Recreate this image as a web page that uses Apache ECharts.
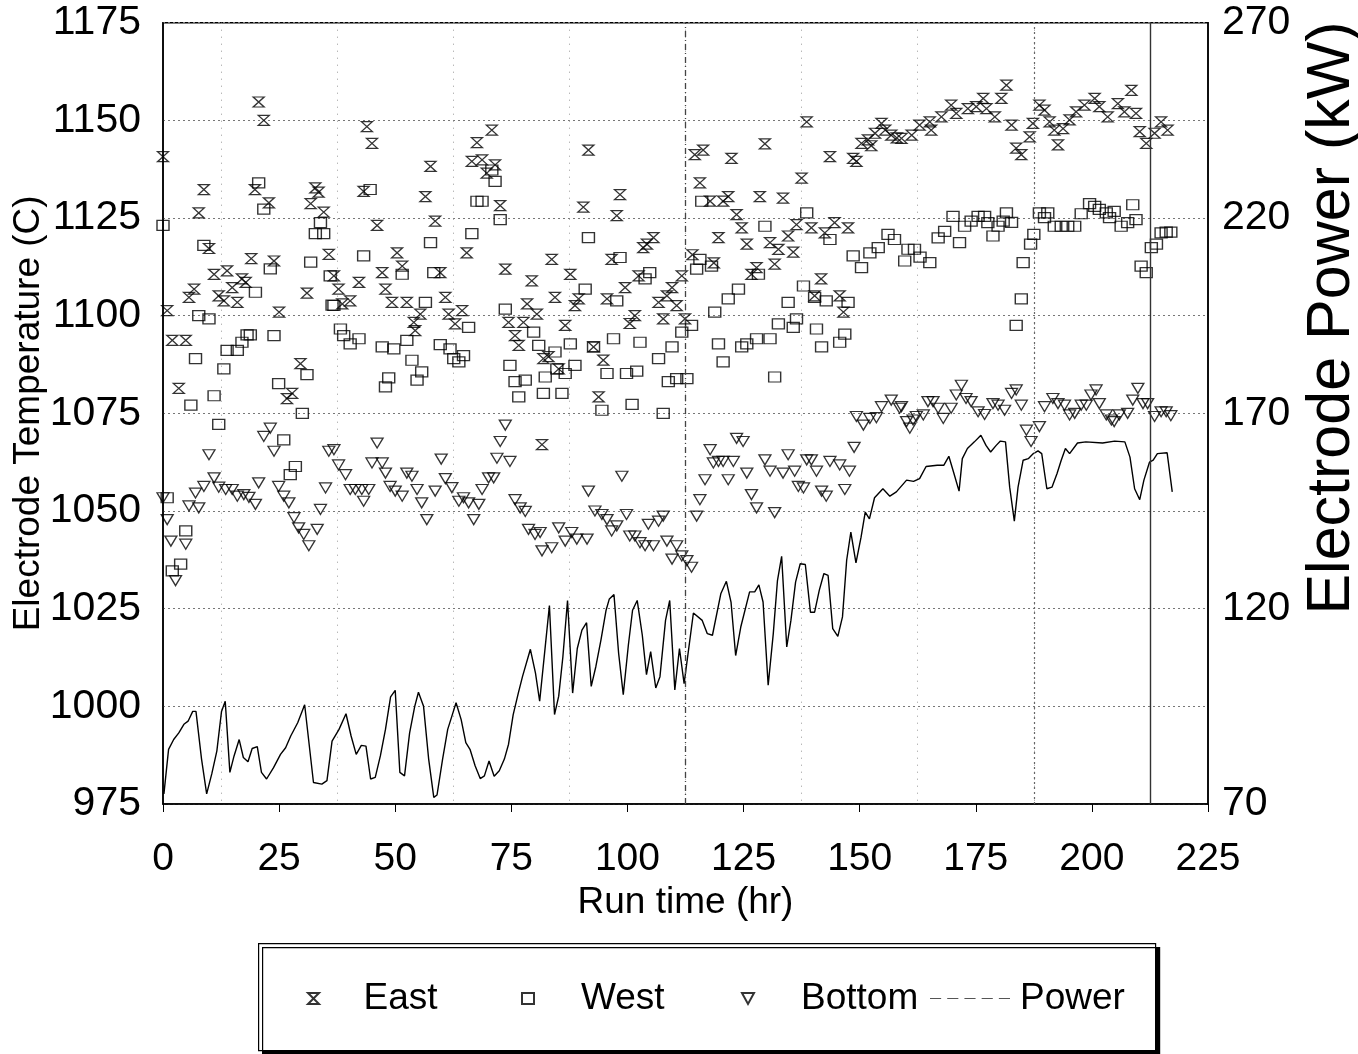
<!DOCTYPE html>
<html>
<head>
<meta charset="utf-8">
<script src="https://cdn.jsdelivr.net/npm/echarts@6/dist/echarts.min.js"></script>
<style>
html,body{margin:0;padding:0;background:#fff;}
#chart{width:1358px;height:1054px;}
</style>
</head>
<body>
<div id="chart"></div>
<script>
// ---- Data ----
const xTicks = [0, 25, 50, 75, 100, 125, 150, 175, 200, 225];
const tempTicks = [975, 1000, 1025, 1050, 1075, 1100, 1125, 1150, 1175];
const powerTicks = [70, 120, 170, 220, 270];
const seriesNames = ['East', 'West', 'Bottom', 'Power'];
const eventLines = [112.5, 187.5, 212.5];

// East electrode temperature [run time hr, temperature C]
const eastPoints = [
[0,1140.7],[0.9,1101.3],[2,1093.7],[3.4,1081.4],[4.9,1093.7],[5.6,1104.7],[6.7,1106.8],[7.7,1126.3],[8.8,1132.3],[9.9,1117.2],
[11,1110.6],[12,1105.1],[13.1,1103.8],[13.8,1111.5],[14.9,1107.2],[16,1103.4],[17,1109.4],[17.8,1108.5],[19,1114.6],[19.8,1132.3],
[20.6,1154.7],[21.7,1150],[22.8,1128.9],[23.9,1114],[25,1100.9],[26.7,1078.8],[27.8,1080.1],[29.6,1087.7],[31,1105.8],[31.8,1128.7],
[32.8,1132.7],[33.5,1131.6],[34.6,1126.5],[35.7,1115.7],[36.8,1110.2],[37.8,1106.8],[38.6,1103],[40.3,1103.8],[42.2,1108.5],[43.2,1131.8],
[43.9,1148.4],[45,1144.1],[46.1,1123.1],[47.2,1111],[47.9,1106.8],[49.3,1103.4],[50.4,1116.1],[51.5,1112.7],[52.5,1103.4],[54,1098.3],
[54.3,1096.2],[55.4,1100.4],[56.5,1130.5],[57.6,1138.2],[58.6,1124.2],[59.7,1111],[60.8,1104.7],[61.5,1100.4],[62.9,1097.9],[64.4,1101.3],
[65.4,1116.1],[66.5,1139.5],[67.6,1144.3],[68.7,1139.9],[69.7,1136.5],[70.8,1147.5],[71.5,1138.6],[72.6,1128.2],[73.7,1111.9],[74.4,1098.3],
[75.8,1094.9],[76.6,1092.4],[77.6,1098.3],[78.4,1103],[79.4,1108.9],[80.5,1100.4],[81.6,1067],[81.9,1089],[83,1089.5],[83.7,1114.4],
[84.4,1104.7],[85.2,1086.4],[86.6,1097.5],[87.7,1110.6],[88.7,1102.6],[89.5,1104.3],[90.5,1127.8],[91.6,1142.4],[92.7,1092],[93.8,1079.2],
[94.8,1088.6],[95.6,1104.3],[96.6,1114.4],[97.7,1125.6],[98.4,1131],[99.5,1107.2],[100.5,1098],[101.6,1100],[102.4,1110.2],[103.4,1117.4],
[104.2,1118.3],[105.6,1120],[106.7,1103.4],[107.7,1099.2],[108.5,1105.1],[109.6,1107.2],[110.6,1102.6],[111.7,1110.2],[112.4,1099.2],[114,1115.6],
[114.5,1141.2],[115.6,1134],[116.3,1142.4],[117.8,1129.3],[118.6,1113.5],[119.6,1120],[120.6,1129.3],[121.7,1130.5],[122.4,1140.3],[123.5,1125.9],
[124.6,1122.5],[125.7,1118.3],[126.7,1110.6],[127.8,1112.3],[128.5,1130.5],[129.6,1144],[130.7,1118.7],[131.7,1113.2],[132.5,1117],[133.5,1130.1],
[134.6,1120.4],[135.7,1116.3],[136.4,1123.3],[137.5,1135.2],[138.6,1149.6],[139.6,1122.5],[140.3,1105.1],[141.7,1109.4],[142.5,1121.2],[143.6,1140.7],
[144.6,1123.8],[145.7,1105.1],[146.5,1100.9],[147.5,1122.5],[148.6,1140.3],[149.3,1139.5],[150.4,1144.1],[151.8,1145],[152.5,1143.5],[153.3,1146.7],
[154.7,1149.2],[155.5,1147.5],[156.8,1146.2],[158,1145.5],[159,1145.4],[161.2,1146.2],[162.9,1148.8],[165.1,1149.6],[165.4,1147.5],[167.6,1150.9],
[169.7,1153.9],[170.8,1151.8],[173.3,1153],[175.1,1153.5],[176.6,1155.6],[177.3,1153],[179.1,1150.9],[180.5,1155.6],[181.6,1159],[182.7,1148.8],
[183.7,1142.9],[184.8,1141.2],[186.6,1145.8],[187.3,1149.2],[188.7,1153.9],[189.8,1152.6],[190.9,1149.6],[191.9,1147.5],[192.7,1143.7],[193.8,1147.9],
[195.2,1150.1],[196.6,1152.2],[198.4,1153.9],[200.6,1155.6],[201.6,1153.5],[203.4,1150.9],[205.6,1154.3],[207,1152.2],[208.5,1157.7],[209.5,1151.8],
[210.3,1147.1],[211.7,1144.1],[213.5,1146.7],[214.9,1149.6],[216.3,1147.5]
];

// West electrode temperature [run time hr, temperature C]
const westPoints = [
[0,1123.1],[0.9,1053.4],[2,1034.7],[3.8,1036.4],[4.9,1044.9],[6,1077.1],[7,1089],[7.7,1100],[8.8,1118],[9.9,1099.2],
[11,1079.5],[12,1072.2],[13.1,1086.4],[13.8,1091.1],[16,1091.1],[17,1093.2],[18.1,1095.1],[18.8,1095.1],[19.9,1106],[20.6,1134],
[21.7,1127.3],[23.1,1112],[23.9,1094.9],[24.9,1082.6],[26,1068.2],[27.4,1059.3],[28.5,1061.4],[30,1075],[31,1084.9],[31.8,1113.7],
[32.8,1121],[33.9,1123.8],[34.6,1121],[36,1110.2],[36.4,1102.7],[36.8,1102.6],[38.2,1096.6],[38.9,1094.9],[40.3,1092.8],[42.2,1094.1],
[43.2,1115.3],[44.6,1132.3],[47.2,1092],[47.9,1081.8],[48.6,1084.1],[49.7,1091.5],[51.5,1110.6],[52.5,1093.7],[53.6,1088.6],[54.7,1083.5],
[55.7,1085.6],[56.5,1103.4],[57.6,1118.7],[58.3,1111],[59.7,1092.6],[61.8,1091.5],[62.6,1089],[63.7,1088.2],[64.7,1089.8],[65.8,1097],
[66.5,1121],[67.6,1129.3],[68.7,1129.3],[70.8,1137.3],[71.5,1134.4],[72.6,1124.6],[73.7,1101.7],[74.7,1087.3],[75.8,1083.1],[76.6,1079.2],
[78,1083.5],[79.8,1095.8],[80.9,1092.4],[81.9,1080.1],[82.3,1084.3],[84.4,1090.7],[84.8,1086.4],[85.9,1080.1],[86.6,1085.2],[87.7,1092.8],
[88.7,1087.3],[90.9,1106.8],[91.6,1120],[92.7,1092],[94.5,1075.8],[95.6,1085.2],[97,1094.1],[97.7,1103.8],[98.4,1114.9],[99.8,1085.2],
[101,1077.3],[102,1085.8],[102.7,1093.2],[103.8,1109.4],[104.8,1111],[106.7,1089],[107.7,1075],[108.8,1083.1],[109.6,1092],[110.6,1083.9],
[111.7,1095.8],[112.8,1083.9],[113.8,1097.5],[114.9,1111.9],[115.6,1114.4],[116,1129.3],[118.1,1112.7],[118.8,1100.9],[119.6,1092.8],[120.6,1088.2],
[121.7,1104.3],[123.9,1106.8],[124.6,1092],[125.7,1092.8],[127.8,1094.1],[128.2,1110.6],[129.6,1122.9],[130.7,1094.1],[131.7,1084.3],[132.5,1097.9],
[134.6,1103.4],[135.7,1097],[136.4,1099.2],[137.9,1107.6],[138.6,1126.3],[140.3,1104.7],[140.7,1096.6],[141.8,1092],[142.8,1103.8],[143.6,1119.5],
[145.7,1093.2],[146.8,1095.3],[147.5,1103.4],[148.6,1115.3],[150.4,1112.3],[152.2,1116.1],[154,1117.4],[156.1,1120.8],[157.5,1119.5],[159.7,1114],
[160.4,1117],[161.8,1117],[163,1115],[165.1,1113.6],[166.9,1119.9],[168.3,1121.6],[170.1,1125.4],[171.5,1118.7],[172.6,1122.9],[174,1124.2],
[175.5,1125.4],[176.9,1125.4],[177.6,1123.8],[178.7,1120.4],[179.8,1122.9],[180.9,1124.2],[181.6,1126.3],[182.7,1123.9],[183.7,1097.5],[184.8,1104.3],
[185.2,1113.6],[186.8,1118.3],[187.5,1120.8],[188.7,1126.3],[189.8,1125.1],[190.5,1126.3],[191.9,1122.9],[193.4,1122.9],[194.8,1122.9],[196.3,1122.9],
[197.7,1126.1],[199.5,1128.7],[200.6,1128],[201.6,1127.2],[203.1,1126.3],[203.8,1125.1],[204.8,1126.7],[206.3,1122.9],[207.7,1123.8],[208.8,1128.4],
[209.5,1124.6],[210.6,1112.7],[211.7,1111],[212.8,1117.4],[213.9,1118.3],[214.9,1121.2],[216,1121.4],[217,1121.4]
];

// Bottom electrode temperature [run time hr, temperature C]
const bottomPoints = [
[0,1053.4],[0.9,1047.8],[1.7,1042.3],[2.7,1032.2],[4.9,1041.5],[5.6,1051.3],[7,1054.6],[7.7,1050.8],[8.8,1056.3],[9.9,1064.4],
[11,1058.5],[12,1056.1],[13.5,1055.5],[14.9,1055.5],[16,1053.8],[17.4,1054.2],[18.5,1053.5],[19.9,1051.7],[20.6,1057.2],[21.7,1069.1],
[23.1,1071.2],[23.9,1065.3],[24.9,1056.3],[26,1053.8],[27.1,1052.1],[28.2,1048.3],[29.2,1045.7],[30.3,1044],[31.4,1041.1],[33.2,1045.3],
[33.9,1050.4],[35,1055.9],[35.7,1065.3],[36.8,1065.7],[37.8,1061.8],[39.3,1059.3],[40.3,1055.5],[41.4,1055.5],[42.8,1055.5],[43.2,1052.5],
[44.3,1055.5],[45,1062.3],[46.1,1067.4],[47.2,1062.3],[47.9,1059.7],[48.9,1056.3],[50,1055.1],[51.5,1053.8],[52.5,1059.7],[53.6,1058.9],
[54.7,1055.5],[55.7,1052.1],[56.8,1047.8],[58.6,1055.1],[59.9,1063.3],[60.8,1058.3],[62.2,1056],[63.7,1052.5],[64.7,1053.4],[65.8,1052.1],
[66.9,1047.8],[68,1051.7],[68.7,1055.5],[70.1,1058.5],[71.2,1058.5],[71.9,1063.5],[72.6,1067.8],[73.7,1072],[74.7,1062.7],[75.8,1052.9],
[76.9,1050.8],[78,1049.9],[78.7,1045.3],[80.1,1044],[81.2,1044.5],[81.6,1039.8],[83.7,1040.6],[85.2,1045.7],[86.6,1042.3],[88,1044.5],
[89.1,1042.8],[91.3,1042.8],[91.6,1055.1],[93,1050],[94.5,1049.1],[95.6,1047.8],[96.6,1044.9],[97.7,1046.2],[98.8,1058.9],[99.8,1049.1],
[100.5,1043.6],[101.6,1043.6],[102.7,1041.9],[103.8,1041.1],[104.5,1046.6],[105.6,1041.1],[106.7,1047.4],[107.7,1048.7],[108.5,1042.3],[109.6,1037.7],
[110.6,1041.1],[111.7,1038.5],[112.8,1037.3],[113.8,1035.6],[114.9,1048.7],[115.6,1052.9],[116.7,1058],[117.8,1065.7],[118.5,1062.3],[119.6,1062.7],
[120.6,1062.7],[121.7,1058],[122.8,1062.7],[123.5,1068.6],[124.9,1067.8],[125.7,1059.7],[126.7,1054.2],[127.8,1050.8],[129.6,1063.1],[130.7,1060.2],
[131.7,1049.6],[133.5,1059.7],[134.6,1064.4],[136,1060.2],[136.8,1056.3],[137.9,1055.9],[138.6,1063.1],[139.6,1063.1],[140.7,1060.2],[141.8,1055.1],
[142.8,1053.8],[143.6,1062.7],[145.7,1061.8],[146.8,1055.5],[147.8,1060.2],[148.8,1066.3],[149.3,1074.2],[150.8,1072],[152.2,1073.7],[153.6,1073.9],
[154.7,1076.7],[156.8,1078.4],[158.6,1076.3],[159,1076.7],[160.1,1072.9],[160.8,1071.2],[161.5,1073.3],[162.2,1074.2],[163.7,1074.6],[164.7,1078],
[165.8,1078],[166.9,1076.3],[168,1073.7],[169.7,1076.3],[170.8,1079.7],[171.9,1082.2],[172.9,1078.8],[174,1078],[175.5,1075.4],[176.9,1074.7],
[178.7,1077.5],[179.8,1077.1],[181.2,1075.8],[182.7,1080.1],[183.7,1081],[184.8,1077.1],[185.9,1070.7],[186.9,1067.8],[188.7,1071.6],[189.8,1076.7],
[191.6,1078.8],[192.7,1077.5],[194.1,1077.1],[195.2,1074.6],[196.3,1075],[197.7,1077.1],[198.8,1077.1],[199.8,1079.7],[200.9,1081],[201.6,1077.5],
[203.1,1074.6],[204.2,1073.3],[204.8,1072.9],[205.9,1074.6],[207.7,1075],[208.8,1078.4],[209.9,1081.4],[211,1077.5],[212,1077.5],[213.5,1074.2],
[214.9,1075.4],[216,1075.4],[217,1074.4]
];

// Electrode power [run time hr, kW]
const powerPoints = [
[0.2,72.6],[1.2,84.0],[2.3,86.5],[3.4,88.2],[4.5,90.4],[5.4,91.2],[6.4,93.7],[7.1,93.7],[8.3,81.5],[9.4,72.6],
[10.5,77.7],[11.6,83.6],[12.6,93.7],[13.4,96.3],[14.4,78.1],[15.3,82.3],[16.4,86.5],[17.3,81.9],[18.3,80.8],[19.2,84.2],
[20.3,84.7],[21.2,78.1],[22.3,76.4],[23.8,79.3],[25.3,82.7],[26.4,84.4],[27.5,87.4],[29.0,90.8],[30.5,95.4],[32.4,75.5],
[34.2,75.1],[35.3,76.0],[36.4,86.1],[37.9,89.1],[39.4,93.1],[40.5,87.4],[41.6,82.7],[42.7,85.0],[43.7,84.8],[44.7,76.4],
[45.7,76.8],[46.8,82.3],[47.9,89.1],[49.0,97.4],[50.0,99.1],[51.0,78.1],[52.0,77.2],[53.1,88.2],[54.2,95.0],[55.0,98.6],
[56.1,95.0],[57.2,81.5],[58.3,71.7],[59.0,72.3],[60.2,81.5],[61.3,89.1],[62.2,92.5],[63.1,95.9],[64.2,91.6],[65.2,85.7],
[66.1,84.0],[67.2,79.8],[68.3,76.5],[69.2,77.2],[70.2,81.0],[71.3,77.1],[72.4,78.5],[73.5,81.5],[74.4,85.3],[75.4,92.9],
[76.5,98.4],[77.4,102.6],[79.1,109.6],[80.2,103.5],[81.1,96.3],[82.3,110.3],[83.2,120.8],[84.3,92.9],[85.2,97.6],[86.1,107.7],
[87.1,122.1],[88.2,98.4],[89.2,109.8],[90.2,114.5],[91.2,116.4],[92.2,100.1],[93.2,105.2],[94.3,112.0],[95.4,119.6],[96.1,122.5],
[97.1,123.6],[98.1,108.6],[99.1,98.0],[100.2,110.7],[101.1,119.6],[102.1,122.1],[103.2,113.2],[104.1,103.1],[105.0,109.0],[106.1,99.7],
[107.0,102.6],[108.2,117.0],[109.1,122.1],[110.2,99.2],[111.2,109.8],[112.2,100.8],[114.2,118.9],[116.1,117.0],[117.2,113.6],[118.3,113.2],
[120.1,123.8],[121.3,127.0],[122.3,121.7],[123.3,108.0],[124.4,115.3],[126.3,124.3],[127.4,124.3],[128.3,126.1],[129.2,121.7],[130.3,100.4],
[131.4,113.6],[132.3,127.2],[133.2,133.4],[134.3,110.2],[135.2,117.0],[136.2,126.8],[137.2,131.5],[138.3,131.3],[139.4,119.1],[140.3,119.1],
[141.3,124.7],[142.3,129.0],[143.2,128.5],[144.2,114.9],[145.3,112.9],[146.3,117.9],[147.2,132.4],[148.1,139.6],[149.2,131.7],[150.3,138.3],
[151.2,144.7],[152.1,143.0],[153.2,148.4],[155.0,150.7],[156.5,148.8],[157.9,149.9],[160.1,152.9],[161.6,152.6],[162.9,153.3],[164.3,156.4],
[166.7,156.7],[168.1,156.7],[169.2,159.0],[170.3,154.6],[171.4,150.1],[172.1,158.4],[173.2,161.0],[174.7,162.7],[176.1,164.4],[177.2,161.8],
[178.2,160.1],[179.4,161.8],[180.3,162.9],[181.4,162.7],[182.3,151.1],[183.3,142.4],[184.1,151.1],[185.2,158.0],[186.3,158.4],[187.4,159.7],
[188.4,160.4],[189.2,159.7],[190.3,150.7],[191.4,151.1],[192.5,154.6],[193.4,158.0],[194.3,161.0],[195.2,159.7],[196.9,162.4],[198.7,162.7],
[202.3,162.4],[204.9,162.9],[207.1,162.7],[208.2,158.8],[209.2,150.7],[210.3,147.9],[211.2,152.9],[212.4,157.5],[213.2,158.0],[214.1,159.7],
[216.2,159.9],[217.3,149.9]
];

// ---- Chart ----
const FONT = '"Liberation Sans", Arial, Helvetica, sans-serif';
const markerStyle = {color: 'rgba(0,0,0,0)', borderColor: '#000', borderWidth: 1.3};
const hourglass = 'path://M0,0L10,0L0,10L10,10Z';
const triDown = 'path://M0,0L10,0L5,9Z';
const dashIcon = 'path://M0,0h11v1h-11z M17,0h11v1h-11z M34,0h11v1h-11z M51,0h11v1h-11z M68,0h11v1h-11z';

const chart = echarts.init(document.getElementById('chart'), null, {renderer: 'canvas'});

function legendAt(item, left, iconW, padLeft) {
  return {
    data: [item], left: left, top: 980, padding: 0, itemGap: 0,
    itemWidth: iconW, itemHeight: iconW === 80 ? 2 : 11,
    textStyle: {fontFamily: FONT, fontSize: 37, color: '#000', padding: [0, 0, 0, padLeft]},
    selectedMode: false
  };
}
const noComma = v => String(v);

const option = {
  animation: false,
  backgroundColor: '#fff',
  grid: {left: 163, right: 150, top: 22.7, bottom: 250, containLabel: false, outerBoundsMode: 'none',
         show: true, borderColor: '#000', borderWidth: 1.5, backgroundColor: 'transparent'},
  graphic: [{
    type: 'rect', left: 258, top: 943, z: -1,
    shape: {width: 897, height: 107},
    style: {fill: '#fff', stroke: '#000', lineWidth: 1.2, shadowColor: '#000', shadowOffsetX: 4, shadowOffsetY: 4, shadowBlur: 0}
  }, {
    type: 'text', x: 1332, y: 318, rotation: Math.PI / 2,
    style: {text: 'Electrode Power (kW)', fontFamily: FONT, fontSize: 61, fill: '#000', textAlign: 'center', textVerticalAlign: 'middle'}
  }],
  legend: [
    legendAt('East', 307, 12, 39),
    legendAt('West', 521, 12, 42),
    legendAt('Bottom', 741, 12, 42),
    legendAt({name: 'Power', icon: dashIcon, itemStyle: {color: '#555', borderWidth: 0}}, 930, 80, 5)
  ],
  xAxis: {
    type: 'value', min: xTicks[0], max: xTicks[xTicks.length - 1], interval: 25,
    name: 'Run time (hr)', nameLocation: 'middle', nameGap: 80,
    nameTextStyle: {fontFamily: FONT, fontSize: 37, color: '#000'},
    axisLine: {show: true, lineStyle: {color: '#000', width: 1.5}},
    axisTick: {show: true, inside: false, length: 8, lineStyle: {color: '#000'}},
    axisLabel: {fontFamily: FONT, fontSize: 39, color: '#000', margin: 36, formatter: noComma},
    splitLine: {show: false},
    minorTick: {show: false, splitNumber: 2},
    minorSplitLine: {show: true, lineStyle: {color: '#9a9a9a', type: [1, 6], width: 1}}
  },
  yAxis: [{
    type: 'value', min: tempTicks[0], max: tempTicks[tempTicks.length - 1], interval: 25,
    name: 'Electrode Temperature (C)', nameLocation: 'middle', nameGap: 116, nameRotate: 90,
    nameMoveOverlap: false,
    nameTextStyle: {fontFamily: FONT, fontSize: 37, color: '#000'},
    axisLine: {show: true, lineStyle: {color: '#000', width: 1.5}},
    axisTick: {show: false},
    axisLabel: {fontFamily: FONT, fontSize: 41, color: '#000', margin: 22, formatter: noComma},
    splitLine: {show: true, lineStyle: {color: '#777', type: [2, 3], width: 1}}
  }, {
    type: 'value', min: powerTicks[0], max: powerTicks[powerTicks.length - 1], interval: 50,
    axisLine: {show: true, lineStyle: {color: '#000', width: 1.5}},
    axisTick: {show: false},
    axisLabel: {fontFamily: FONT, fontSize: 41, color: '#000', margin: 14, formatter: noComma},
    splitLine: {show: false}
  }],
  series: [{
    name: seriesNames[0], type: 'scatter', data: eastPoints, symbol: hourglass, symbolSize: [11, 10],
    itemStyle: markerStyle, z: 3,
    markLine: {
      silent: true, symbol: 'none', label: {show: false},
      data: [
        {xAxis: eventLines[0], lineStyle: {color: '#444', type: [6, 3, 1, 3], width: 1.3}},
        {xAxis: eventLines[1], lineStyle: {color: '#666', type: [2, 3], width: 1.2}},
        {xAxis: eventLines[2], lineStyle: {color: '#333', type: 'solid', width: 1.4}}
      ]
    }
  }, {
    name: seriesNames[1], type: 'scatter', data: westPoints, symbol: 'rect', symbolSize: [12, 10],
    itemStyle: markerStyle, z: 3
  }, {
    name: seriesNames[2], type: 'scatter', data: bottomPoints, symbol: triDown, symbolSize: [12, 10],
    itemStyle: markerStyle, z: 3
  }, {
    name: seriesNames[3], type: 'line', yAxisIndex: 1, data: powerPoints, showSymbol: false, symbol: 'none',
    lineStyle: {color: '#000', width: 1.4}, itemStyle: {color: '#000'}, z: 2
  }]
};
chart.setOption(option);
</script>
</body>
</html>
